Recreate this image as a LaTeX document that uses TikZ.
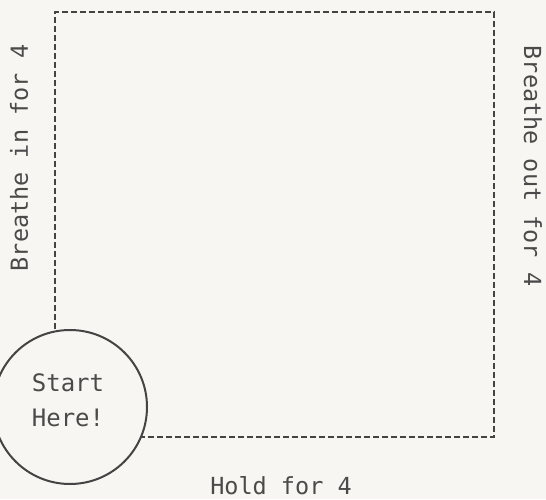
\documentclass[tikz,border=0pt]{standalone}
\usepackage{fontspec}
\setmonofont{DejaVu Sans Mono}
\begin{document}
\begin{tikzpicture}[x=1pt,y=1pt,
  lbl/.style={font=\ttfamily\fontsize{23.5}{28}\selectfont, text=textc, inner sep=0pt},
  dashbox/.style={draw=inkc, line width=1.5pt, dash pattern=on 6pt off 3pt},
  startc/.style={circle, draw=inkc, fill=bgc, line width=2pt, minimum size=154pt, inner sep=0pt}]
\definecolor{bgc}{HTML}{F7F6F2}
\definecolor{inkc}{HTML}{444444}
\definecolor{textc}{HTML}{4A4A4A}
\fill[bgc] (0,0) rectangle (546,499);
\useasboundingbox (0,0) rectangle (546,499);
\coordinate (bl) at (55,62);
\coordinate (tl) at (55,487);
\coordinate (tr) at (494,487);
\coordinate (br) at (494,62);
\draw[dashbox] (bl) -- (tl) -- (tr) -- (br) -- cycle;
\node[startc] (start) at (70,92) {};
\node[lbl, align=center, font=\ttfamily\fontsize{24}{35}\selectfont] (starttext) at (68,99) {Start\\Here!};
\node[lbl, rotate=90] (in) at (19,341) {Breathe in for 4};
\node[lbl, rotate=-90] (out) at (533,333) {Breathe out for 4};
\node[lbl] (hold) at (281,13) {Hold for 4};
\end{tikzpicture}
\end{document}
